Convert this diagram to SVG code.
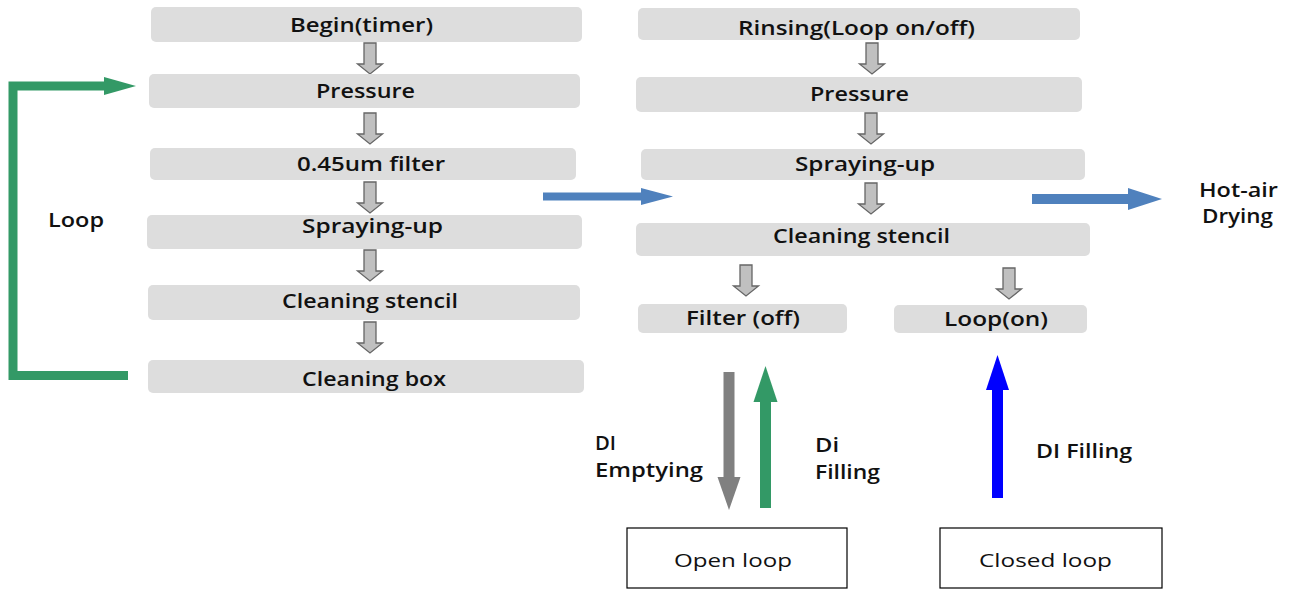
<svg xmlns="http://www.w3.org/2000/svg" xmlns:xlink="http://www.w3.org/1999/xlink" width="1290" height="590" viewBox="0 0 1290 590">
<style>
.box{fill:#dddddd;}
.obox{fill:#ffffff;stroke:#000000;stroke-width:1.2;}
text{font-family:"Open Sans","Liberation Sans",sans-serif;font-size:19px;fill:#111111;}
.b{font-weight:600;}
.r{font-weight:500;}
.m{text-anchor:middle;}
.hollow{fill:#c0c0c0;stroke:#666666;stroke-width:1.3;}
</style>
<defs>
<path id="dn" class="hollow" d="M-6,0 H6 V21 H12.5 L0,31 L-12.5,21 H-6 Z"/>
</defs>
<rect width="1290" height="590" fill="#ffffff"/>

<g id="connectors">
  <use xlink:href="#dn" transform="translate(370,43)"/>
  <use xlink:href="#dn" transform="translate(370,113)"/>
  <use xlink:href="#dn" transform="translate(370,182)"/>
  <use xlink:href="#dn" transform="translate(370,250)"/>
  <use xlink:href="#dn" transform="translate(370,322)"/>
  <use xlink:href="#dn" transform="translate(872,43)"/>
  <use xlink:href="#dn" transform="translate(871,113)"/>
  <use xlink:href="#dn" transform="translate(871,183)"/>
  <use xlink:href="#dn" transform="translate(746,265)"/>
  <use xlink:href="#dn" transform="translate(1009,268)"/>
  <!-- green loop -->
  <polyline points="128,375.5 13,375.5 13,86 106,86" fill="none" stroke="#339966" stroke-width="9" stroke-linejoin="miter"/>
  <polygon points="104,77 136,86 104,95" fill="#339966"/>
  <!-- blue arrows -->
  <rect x="543" y="192.5" width="100" height="8" fill="#4f81bd"/>
  <polygon points="641,188 673,196.5 641,205" fill="#4f81bd"/>
  <rect x="1032" y="194" width="98" height="10" fill="#4f81bd"/>
  <polygon points="1128,188 1162,199 1128,210" fill="#4f81bd"/>
  <!-- bottom arrows -->
  <rect x="723.5" y="372" width="11" height="106" fill="#808080"/>
  <polygon points="717.5,477 740.5,477 729,510" fill="#808080"/>
  <rect x="760" y="401" width="11" height="107" fill="#339966"/>
  <polygon points="753.5,402 777.5,402 765.5,366" fill="#339966"/>
  <rect x="992" y="389" width="11" height="109" fill="#0000ff"/>
  <polygon points="986,390 1009,390 997.5,355" fill="#0000ff"/>
</g>

<g id="n-begin"><rect class="box" x="151" y="7" width="431" height="35" rx="5"/><text class="b m" x="361.5" y="31.5" textLength="143" lengthAdjust="spacingAndGlyphs">Begin(timer)</text></g>
<g id="n-pressure1"><rect class="box" x="149" y="74" width="431" height="34" rx="5"/><text class="b m" x="365.5" y="98" textLength="99" lengthAdjust="spacingAndGlyphs">Pressure</text></g>
<g id="n-filter"><rect class="box" x="150" y="148" width="426" height="32" rx="5"/><text class="b m" x="371" y="171" textLength="148" lengthAdjust="spacingAndGlyphs">0.45um filter</text></g>
<g id="n-spray1"><rect class="box" x="147" y="215" width="435" height="34" rx="5"/><text class="b m" x="372.5" y="233" textLength="141" lengthAdjust="spacingAndGlyphs">Spraying-up</text></g>
<g id="n-stencil1"><rect class="box" x="148" y="285" width="432" height="35" rx="5"/><text class="b m" x="370" y="308" textLength="176" lengthAdjust="spacingAndGlyphs">Cleaning stencil</text></g>
<g id="n-cbox"><rect class="box" x="148" y="360" width="436" height="33" rx="5"/><text class="b m" x="374" y="386" textLength="144" lengthAdjust="spacingAndGlyphs">Cleaning box</text></g>
<g id="n-loop-label"><text class="b" x="48" y="227" textLength="56" lengthAdjust="spacingAndGlyphs">Loop</text></g>

<g id="n-rinsing"><rect class="box" x="638" y="8" width="442" height="32" rx="5"/><text class="b m" x="856.5" y="35" textLength="237" lengthAdjust="spacingAndGlyphs">Rinsing(Loop on/off)</text></g>
<g id="n-pressure2"><rect class="box" x="636" y="77" width="446" height="35" rx="5"/><text class="b m" x="859.5" y="100.5" textLength="99" lengthAdjust="spacingAndGlyphs">Pressure</text></g>
<g id="n-spray2"><rect class="box" x="641" y="149" width="444" height="31" rx="5"/><text class="b m" x="865" y="171" textLength="140" lengthAdjust="spacingAndGlyphs">Spraying-up</text></g>
<g id="n-stencil2"><rect class="box" x="636" y="223" width="454" height="33" rx="5"/><text class="b m" x="861.5" y="243" textLength="177" lengthAdjust="spacingAndGlyphs">Cleaning stencil</text></g>
<g id="n-filteroff"><rect class="box" x="638" y="304" width="209" height="29" rx="5"/><text class="b m" x="743" y="325" textLength="114" lengthAdjust="spacingAndGlyphs">Filter (off)</text></g>
<g id="n-loopon"><rect class="box" x="894" y="305" width="193" height="28" rx="5"/><text class="b m" x="996" y="326" textLength="104" lengthAdjust="spacingAndGlyphs">Loop(on)</text></g>

<g id="n-hotair"><text class="b" x="1199" y="197" textLength="79" lengthAdjust="spacingAndGlyphs">Hot-air</text><text class="b" x="1202" y="223" textLength="71" lengthAdjust="spacingAndGlyphs">Drying</text></g>

<g id="n-di-empty"><text class="b" x="595" y="450" textLength="21" lengthAdjust="spacingAndGlyphs">DI</text><text class="b" x="595" y="477" textLength="108" lengthAdjust="spacingAndGlyphs">Emptying</text></g>
<g id="n-di-fill1"><text class="b" x="815" y="452" textLength="24" lengthAdjust="spacingAndGlyphs">Di</text><text class="b" x="815" y="479" textLength="65" lengthAdjust="spacingAndGlyphs">Filling</text></g>
<g id="n-di-fill2"><text class="b" x="1036" y="458" textLength="96" lengthAdjust="spacingAndGlyphs">DI Filling</text></g>

<g id="n-openloop"><rect class="obox" x="627" y="528" width="220" height="60"/><text class="r m" x="733" y="567" textLength="118" lengthAdjust="spacingAndGlyphs">Open loop</text></g>
<g id="n-closedloop"><rect class="obox" x="940" y="528" width="222" height="60"/><text class="r m" x="1045.5" y="567" textLength="133" lengthAdjust="spacingAndGlyphs">Closed loop</text></g>
</svg>
